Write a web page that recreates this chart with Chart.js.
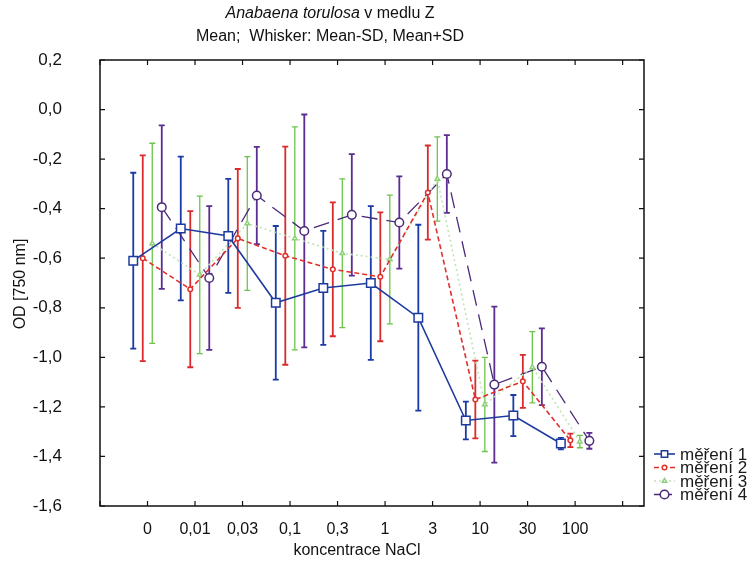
<!DOCTYPE html>
<html>
<head>
<meta charset="utf-8">
<script src="https://cdn.jsdelivr.net/npm/chart.js@4"></script>
<style>
  html, body { margin: 0; padding: 0; background: #fff; }
  canvas { display: block; }
</style>
</head>
<body>
<canvas id="chart" width="754" height="568"></canvas>
<script>
const categories = ["0", "0,01", "0,03", "0,1", "0,3", "1", "3", "10", "30", "100"];
const seriesNames = ["měření 1", "měření 2", "měření 3", "měření 4"];

const mean1 = [-0.61, -0.48, -0.51, -0.78, -0.72, -0.70, -0.84, -1.255, -1.235, -1.348];
const sd1 = [0.355, 0.29, 0.23, 0.31, 0.23, 0.31, 0.375, 0.076, 0.083, 0.023];
const mean2 = [-0.60, -0.725, -0.52, -0.59, -0.645, -0.675, -0.335, -1.17, -1.097, -1.335];
const sd2 = [0.415, 0.315, 0.28, 0.44, 0.27, 0.26, 0.19, 0.157, 0.107, 0.027];
const mean3 = [-0.54, -0.667, -0.46, -0.52, -0.58, -0.605, -0.28, -1.19, -1.04, -1.34];
const sd3 = [0.404, 0.318, 0.27, 0.45, 0.30, 0.26, 0.17, 0.19, 0.144, 0.025];
const mean4 = [-0.394, -0.68, -0.347, -0.49, -0.425, -0.456, -0.26, -1.11, -1.038, -1.337];
const sd4 = [0.33, 0.29, 0.196, 0.47, 0.245, 0.186, 0.157, 0.315, 0.155, 0.032];

const yTicks = [0.2, 0.0, -0.2, -0.4, -0.6, -0.8, -1.0, -1.2, -1.4, -1.6];

// each series is shifted a bit inside its category
const offsets = [-0.3, -0.1, 0.1, 0.3];
const means = [mean1, mean2, mean3, mean4];
const sds = [sd1, sd2, sd3, sd4];
const lineColors = ["#1d3a9e", "#e0302c", "#bfe3b4", "#4b2a78"];
const barColors = ["#1a3aa6", "#dc2a2c", "#6cc54a", "#5b2c92"];
const dashes = [[], [5, 3], [2, 3], [16, 9]];
const pStyles = ["rect", "circle", "triangle", "circle"];
const pRadius = [6, 2.3, 2.6, 4.3];
const lWidths = [1.6, 1.6, 1.6, 1.3];

const FONT = "'Liberation Sans', Arial, sans-serif";

const datasets = means.map((m, d) => ({
  label: seriesNames[d],
  data: m.map((v, i) => ({ x: i + offsets[d], y: v })),
  borderColor: lineColors[d],
  backgroundColor: "#fff",
  borderWidth: lWidths[d],
  borderDash: dashes[d],
  pointStyle: pStyles[d],
  pointRadius: pRadius[d],
  pointBorderColor: d === 2 ? "#8fd07a" : lineColors[d],
  pointBorderWidth: 1.5,
  pointBackgroundColor: "#fff",
  tension: 0,
}));

const errorBars = {
  id: "errorBars",
  beforeDatasetsDraw(chart) {
    const { ctx, scales: { x, y } } = chart;
    ctx.save();
    means.forEach((m, d) => {
      ctx.strokeStyle = barColors[d];
      ctx.lineWidth = d === 2 ? 1.3 : 1.8;
      m.forEach((v, i) => {
        const px = x.getPixelForValue(i + offsets[d]);
        const top = y.getPixelForValue(v + sds[d][i]);
        const bot = y.getPixelForValue(v - sds[d][i]);
        ctx.beginPath();
        ctx.moveTo(px, top);
        ctx.lineTo(px, bot);
        ctx.moveTo(px - 3, top);
        ctx.lineTo(px + 3, top);
        ctx.moveTo(px - 3, bot);
        ctx.lineTo(px + 3, bot);
        ctx.stroke();
      });
    });
    ctx.restore();
  },
};

const frame = {
  id: "frame",
  afterDatasetsDraw(chart) {
    const { ctx, chartArea: a, scales: { x, y } } = chart;
    ctx.save();
    ctx.strokeStyle = "#111";
    ctx.lineWidth = 1.5;
    ctx.strokeRect(a.left, a.top, a.right - a.left, a.bottom - a.top);
    ctx.lineWidth = 1.2;
    ctx.beginPath();
    for (let i = -1; i <= 10; i++) {
      const px = x.getPixelForValue(i);
      ctx.moveTo(px, a.bottom);
      ctx.lineTo(px, a.bottom - 5);
      ctx.moveTo(px, a.top);
      ctx.lineTo(px, a.top + 5);
    }
    yTicks.forEach((t) => {
      const py = y.getPixelForValue(t);
      ctx.moveTo(a.left, py);
      ctx.lineTo(a.left + 5, py);
      ctx.moveTo(a.right, py);
      ctx.lineTo(a.right - 5, py);
    });
    ctx.stroke();
    ctx.restore();
  },
  afterDraw(chart) {
    const ctx = chart.ctx;
    ctx.save();
    ctx.fillStyle = "#111";
    ctx.textBaseline = "middle";

    // title, first part in italics
    const t1 = "Anabaena torulosa";
    const t2 = " v medlu Z";
    ctx.font = "italic 16px " + FONT;
    const w1 = ctx.measureText(t1).width;
    ctx.font = "16px " + FONT;
    const w2 = ctx.measureText(t2).width;
    let sx = 330 - (w1 + w2) / 2;
    ctx.textAlign = "left";
    ctx.font = "italic 16px " + FONT;
    ctx.fillText(t1, sx, 14);
    ctx.font = "16px " + FONT;
    ctx.fillText(t2, sx + w1, 14);
    ctx.textAlign = "center";
    ctx.fillText("Mean;  Whisker: Mean-SD, Mean+SD", 330, 37);

    // axis titles
    ctx.fillText("koncentrace NaCl", 357, 551);
    ctx.save();
    ctx.translate(21, 284);
    ctx.rotate(-Math.PI / 2);
    ctx.fillText("OD [750 nm]", 0, 0);
    ctx.restore();

    // legend
    ctx.textAlign = "left";
    ctx.font = "17px " + FONT;
    chart.data.datasets.forEach((ds, d) => {
      const ly = 454 + d * 13.5;
      ctx.save();
      ctx.strokeStyle = ds.borderColor;
      ctx.lineWidth = ds.borderWidth;
      ctx.setLineDash(ds.borderDash.map((v) => Math.min(v, 6)));
      ctx.beginPath();
      ctx.moveTo(654, ly);
      ctx.lineTo(675, ly);
      ctx.stroke();
      ctx.setLineDash([]);
      ctx.strokeStyle = ds.pointBorderColor;
      ctx.fillStyle = "#fff";
      ctx.lineWidth = 1.5;
      Chart.helpers.drawPoint(ctx, {
        pointStyle: ds.pointStyle,
        radius: Math.min(ds.pointRadius, 4.5),
        rotation: 0,
        borderWidth: 1.5,
      }, 664.5, ly);
      ctx.restore();
      ctx.fillStyle = "#1a1a1a";
      ctx.fillText(ds.label, 680, ly + 1);
    });
    ctx.restore();
  },
};

new Chart(document.getElementById("chart").getContext("2d"), {
  type: "line",
  data: { datasets },
  options: {
    responsive: false,
    animation: false,
    devicePixelRatio: 1,
    layout: { padding: { left: 0, right: 110, top: 60, bottom: 0 } },
    plugins: {
      legend: { display: false },
      title: { display: false },
      tooltip: { enabled: false },
    },
    scales: {
      x: {
        type: "linear",
        min: -1,
        max: 10.45,
        grid: { display: false },
        border: { display: false },
        afterBuildTicks: (scale) => {
          scale.ticks = categories.map((c, i) => ({ value: i }));
        },
        afterFit: (scale) => { scale.height = 62; },
        ticks: {
          autoSkip: false,
          maxRotation: 0,
          padding: 6,
          color: "#111",
          font: { family: FONT, size: 16 },
          callback: (v) => categories[v] ?? "",
        },
      },
      y: {
        min: -1.6,
        max: 0.2,
        grid: { display: false },
        border: { display: false },
        afterBuildTicks: (scale) => {
          scale.ticks = yTicks.map((v) => ({ value: v }));
        },
        afterFit: (scale) => { scale.width = 100; },
        ticks: {
          padding: 30,
          color: "#111",
          font: { family: FONT, size: 17 },
          callback: (v) => (Math.abs(v) < 1e-9 ? "0,0" : v.toFixed(1).replace(".", ",")),
        },
      },
    },
  },
  plugins: [errorBars, frame],
});
</script>
</body>
</html>
